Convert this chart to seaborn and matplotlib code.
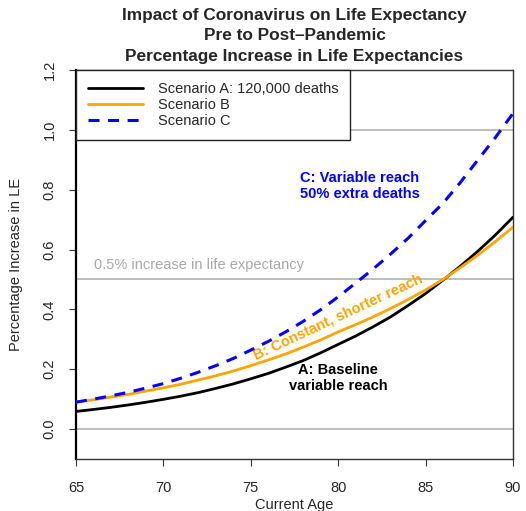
import matplotlib
matplotlib.use("Agg")
import matplotlib.pyplot as plt
import seaborn as sns
import pandas as pd

ages = list(range(65, 91))
scenario_a = [0.059, 0.0655, 0.0727, 0.0807, 0.0896, 0.0994, 0.110, 0.122, 0.136, 0.151,
              0.168, 0.186, 0.207, 0.229, 0.255, 0.283, 0.311, 0.342, 0.375, 0.413,
              0.453, 0.498, 0.545, 0.595, 0.649, 0.708]
scenario_b = [0.090, 0.098, 0.107, 0.116, 0.127, 0.138, 0.150, 0.164, 0.178, 0.194,
              0.212, 0.231, 0.251, 0.274, 0.298, 0.325, 0.349, 0.375, 0.403, 0.433,
              0.465, 0.500, 0.540, 0.582, 0.627, 0.675]
scenario_c = [0.090, 0.100, 0.111, 0.123, 0.137, 0.152, 0.170, 0.190, 0.212, 0.236,
              0.264, 0.293, 0.325, 0.360, 0.399, 0.442, 0.488, 0.535, 0.585, 0.638,
              0.697, 0.755, 0.825, 0.900, 0.975, 1.055]
legend_labels = ["Scenario A: 120,000 deaths", "Scenario B", "Scenario C"]
x_ticks = [65, 70, 75, 80, 85, 90]
y_ticks = [0.0, 0.2, 0.4, 0.6, 0.8, 1.0, 1.2]
ref_lines = [0.0, 0.5, 1.0]

sns.set_style("ticks")
plt.rcParams['font.family'] = ['Liberation Sans', 'DejaVu Sans']

FS = 10.5
fig = plt.figure(figsize=(5.26, 5.11), dpi=100)
ax = fig.add_axes([76/526, 1-459/511, (513-76)/526, (459-70)/511])

for h in ref_lines:
    ax.axhline(h, color='#bebebe', lw=1.4, zorder=1)

df = pd.DataFrame({"age": ages, "A": scenario_a, "B": scenario_b, "C": scenario_c})
sns.lineplot(data=df, x="age", y="A", ax=ax, color='black', lw=2.0, label=legend_labels[0], zorder=3)
sns.lineplot(data=df, x="age", y="B", ax=ax, color='#FFA500', lw=2.0, label=legend_labels[1], zorder=4)
sns.lineplot(data=df, x="age", y="C", ax=ax, color='#0000FF', lw=2.2, label=legend_labels[2], zorder=5)
ax.lines[-1].set_linestyle((0, (3.6, 2.8)))

ax.set_xlim(65, 90)
ax.set_ylim(-0.1, 1.2)
ax.set_xticks(x_ticks)
ax.set_yticks(y_ticks)
ax.set_xticklabels([str(t) for t in x_ticks], fontsize=FS)
ax.set_yticklabels([f"{t:.1f}" for t in y_ticks], fontsize=FS, rotation=90, va='center')
ax.tick_params(axis='both', length=5, width=0.8, color='#333333')
ax.tick_params(axis='x', pad=10.5)
ax.tick_params(axis='y', pad=9)

for side in ['top', 'right', 'bottom']:
    ax.spines[side].set_color('#333333')
    ax.spines[side].set_linewidth(1.0)
ax.spines['left'].set_color('black')
ax.spines['left'].set_linewidth(1.6)

ax.set_xlabel("Current Age", fontsize=FS, labelpad=2.5)
ax.set_ylabel("Percentage Increase in LE", fontsize=FS, labelpad=14)

ax.text(66.03, 0.548, "0.5% increase in life expectancy", color='#a9a9a9', fontsize=FS,
        ha='left', va='center')
ax.text(80.0, 0.374, "B: Constant, shorter reach", color='#FFA500', fontsize=FS,
        fontweight='bold', ha='center', va='center', rotation=25, rotation_mode='anchor')
ax.text(80.0, 0.171, "A: Baseline\nvariable reach", color='black', fontsize=FS,
        fontweight='bold', ha='center', va='center', linespacing=1.15)
ax.text(81.25, 0.813, "C: Variable reach\n50% extra deaths", color='#0000FF', fontsize=FS,
        fontweight='bold', ha='center', va='center', linespacing=1.15)

leg = ax.legend(loc='upper left', borderaxespad=0, fontsize=FS, frameon=True,
                fancybox=False, framealpha=1, edgecolor='#222222', handlelength=3.8,
                handletextpad=1.0, labelspacing=0.15, borderpad=0.8)
leg.get_frame().set_linewidth(1.0)
leg.set_zorder(10)

cx = (294.5) / 526
for txt, yp in [("Impact of Coronavirus on Life Expectancy", 15),
                ("Pre to Post\u2013Pandemic", 35.5),
                ("Percentage Increase in Life Expectancies", 56.5)]:
    fig.text(cx, 1 - yp/511, txt, ha='center', va='center', fontsize=12.4, fontweight='bold')

fig.savefig("out.png", dpi=100)
